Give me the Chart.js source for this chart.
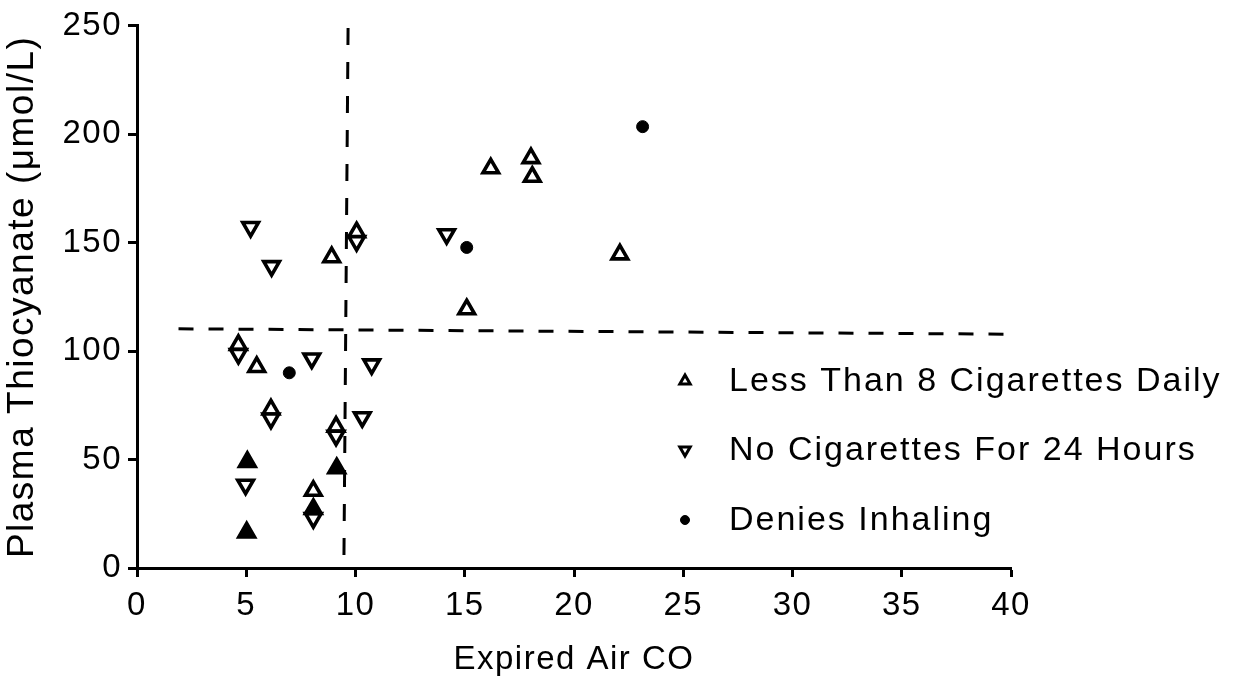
<!DOCTYPE html>
<html>
<head>
<meta charset="utf-8">
<script src="https://cdn.jsdelivr.net/npm/chart.js@4.4.1/dist/chart.umd.min.js"></script>
<style>
  html, body { margin: 0; padding: 0; background: #fff; }
  #wrap { width: 1245px; height: 683px; position: relative; }
</style>
</head>
<body>
<div id="wrap"><canvas id="c"></canvas></div>
<script>
// ---- Data ----
const xTitle = 'Expired Air CO';
const yTitle = 'Plasma Thiocyanate (\u03bcmol/L)';
const xTicks = [0, 5, 10, 15, 20, 25, 30, 35, 40];
const yTicks = [0, 50, 100, 150, 200, 250];

const legendLabels = ['Less Than 8 Cigarettes Daily', 'No Cigarettes For 24 Hours', 'Denies Inhaling'];

// Less than 8 cigarettes daily (open up-triangles)
const lessX = [8.91, 15.09, 5.48, 16.19, 18.03, 18.09, 22.1, 8.07, 10.05, 4.64, 6.13, 9.11];
const lessY = [143.3, 119.3, 92.7, 184.3, 189.0, 180.4, 144.6, 35.6, 154.8, 102.9, 73.1, 65.2];

// No cigarettes for 24 hours (open down-triangles)
const noneX = [5.2, 6.16, 14.17, 8.0, 10.74, 10.31, 4.97, 8.07, 10.05, 4.64, 6.13, 9.11];
const noneY = [157.2, 139.2, 153.9, 96.6, 93.9, 69.5, 38.4, 23.0, 150.7, 98.7, 68.9, 61.0];

// Denies inhaling (dots)
const deniesX = [23.14, 15.09, 6.97];
const deniesY = [203.5, 147.8, 90.0];

// Unlabelled filled up-triangles
const filledX = [5.05, 5.02, 9.14, 8.07];
const filledY = [48.9, 16.4, 46.0, 27.2];

// Dashed cut-off lines
const cutHX = [1.9, 40];
const cutHY = [110.3, 107.8];
const cutVX = [9.66, 9.47];
const cutVY = [249, 3.5];

// ---- Build ----
const toPts = (xs, ys) => xs.map((x, i) => ({ x: x, y: ys[i] }));
const FONT = 'Liberation Sans, Arial, Helvetica, sans-serif';

const markerBase = {
  showLine: false,
  borderColor: '#000',
  borderWidth: 3.6,
  pointRadius: 9,
  pointHoverRadius: 9,
  pointBorderWidth: 3.6
};

const spacingPlugin = {
  id: 'spacing',
  beforeLayout(chart) { chart.ctx.letterSpacing = '1.5px'; },
  beforeDraw(chart) { chart.ctx.letterSpacing = '1.5px'; }
};

const legendPlugin = {
  id: 'customLegend',
  afterDraw(chart) {
    const ctx = chart.ctx;
    const mx = 685, tx = 729;
    const rows = [381, 450, 520];
    const styles = [
      { pointStyle: 'triangle', rotation: 0, radius: 6, borderWidth: 3, fill: '#fff' },
      { pointStyle: 'triangle', rotation: 180, radius: 6, borderWidth: 3, fill: '#fff' },
      { pointStyle: 'circle', rotation: 0, radius: 4.5, borderWidth: 1, fill: '#000' }
    ];
    ctx.save();
    ctx.letterSpacing = '2px';
    ctx.font = '34px ' + FONT;
    ctx.textBaseline = 'middle';
    ctx.textAlign = 'left';
    legendLabels.forEach((lab, i) => {
      const s = styles[i];
      ctx.fillStyle = s.fill;
      ctx.strokeStyle = '#000';
      ctx.lineWidth = s.borderWidth;
      Chart.helpers.drawPoint(ctx, { pointStyle: s.pointStyle, rotation: s.rotation, radius: s.radius, borderWidth: s.borderWidth }, mx, rows[i]);
      ctx.fillStyle = '#000';
      ctx.fillText(lab, tx, rows[i] + 1);
    });
    ctx.restore();
  }
};

new Chart(document.getElementById('c'), {
  type: 'scatter',
  data: {
    datasets: [
      {
        label: 'cutH', type: 'line', data: toPts(cutHX, cutHY),
        borderColor: '#000', borderWidth: 3, borderDash: [15, 15], pointRadius: 0, fill: false, order: 10
      },
      {
        label: 'cutV', type: 'line', data: toPts(cutVX, cutVY),
        borderColor: '#000', borderWidth: 3, borderDash: [17, 17], pointRadius: 0, fill: false, order: 10
      },
      Object.assign({}, markerBase, {
        label: legendLabels[0], data: toPts(lessX, lessY),
        pointStyle: 'triangle', pointRotation: 0, backgroundColor: '#fff', pointBackgroundColor: '#fff', order: 5
      }),
      Object.assign({}, markerBase, {
        label: legendLabels[1], data: toPts(noneX, noneY),
        pointStyle: 'triangle', pointRotation: 180, backgroundColor: '#fff', pointBackgroundColor: '#fff', order: 4
      }),
      Object.assign({}, markerBase, {
        label: legendLabels[2], data: toPts(deniesX, deniesY),
        pointStyle: 'circle', pointRadius: 6, pointHoverRadius: 6, pointBorderWidth: 1,
        backgroundColor: '#000', pointBackgroundColor: '#000', order: 2
      }),
      Object.assign({}, markerBase, {
        label: 'filled', data: toPts(filledX, filledY),
        pointStyle: 'triangle', pointRotation: 0, backgroundColor: '#000', pointBackgroundColor: '#000', order: 1
      })
    ]
  },
  options: {
    responsive: true,
    maintainAspectRatio: false,
    animation: false,
    events: [],
    layout: { padding: { top: 22, right: 234, left: 0, bottom: 0 } },
    plugins: { legend: { display: false }, tooltip: { enabled: false } },
    scales: {
      x: {
        type: 'linear', min: 0, max: 40,
        afterFit(s) { s.height = 115; },
        afterBuildTicks(s) { s.ticks = xTicks.map(v => ({ value: v })); },
        border: { display: true, color: '#000', width: 3 },
        grid: { drawOnChartArea: false, drawTicks: true, tickLength: 9, tickWidth: 3, tickColor: '#000' },
        ticks: { color: '#000', font: { family: FONT, size: 33 }, padding: 9, maxRotation: 0, autoSkip: false },
        title: { display: true, text: xTitle, color: '#000', font: { family: FONT, size: 33 }, padding: { top: 0, bottom: 3 } }
      },
      y: {
        type: 'linear', min: 0, max: 250,
        afterFit(s) { s.width = 137; },
        afterBuildTicks(s) { s.ticks = yTicks.map(v => ({ value: v })); },
        border: { display: true, color: '#000', width: 3 },
        grid: { drawOnChartArea: false, drawTicks: true, tickLength: 9, tickWidth: 3, tickColor: '#000' },
        ticks: { color: '#000', font: { family: FONT, size: 33 }, padding: 6, autoSkip: false },
        title: { display: true, text: yTitle, color: '#000', font: { family: FONT, size: 37 }, padding: { top: 1, bottom: 0 } }
      }
    }
  },
  plugins: [spacingPlugin, legendPlugin]
});
</script>
</body>
</html>
